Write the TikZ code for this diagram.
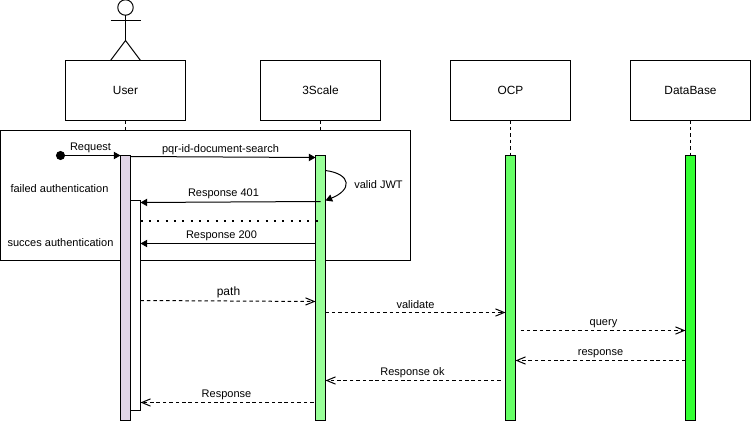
\documentclass[tikz,border=0pt]{standalone}
\usepackage{fontspec}
\setmainfont{Liberation Sans}
\definecolor{myuserbar}{RGB}{225,213,231}
\definecolor{myscalebar}{RGB}{153,255,153}
\definecolor{myocpbar}{RGB}{102,255,102}
\definecolor{mydbbar}{RGB}{51,255,51}
\usetikzlibrary{arrows.meta,positioning}

\begin{document}
\begin{tikzpicture}[
  x=0.75pt,
  y=-0.75pt,
  line width=0.75pt,
  myhead/.style={
    draw,
    rectangle,
    minimum width=90pt,
    minimum height=45pt,
    inner sep=0pt,
    outer sep=0pt,
    font=\fontsize{8.9pt}{10pt}\selectfont
    },
  mybar/.style={
    draw,
    rectangle,
    anchor=north,
    minimum width=7.5pt,
    minimum height=#1,
    inner sep=0pt,
    outer sep=0pt
  },
  mylabel/.style={
    inner sep=0pt,
    font=\fontsize{8.25pt}{10pt}\selectfont
  },
  lifeline/.style={
    dashed,
    dash pattern=on 2.6pt off 2.2pt
  },
  call/.style={
    -{Triangle[length=5pt,width=5.5pt]}
  },
  reply/.style={
    dashed,
    dash pattern=on 2.6pt off 2.2pt,
    -{Straight Barb[length=6.5pt,width=8.5pt,angle'=45]}
  }
]
\useasboundingbox (0,0) rectangle (751,421);

\node[myhead] at (125.5,90.5) (userbox) {User};
\node[myhead] at (320.5,90.5) (scalebox) {3Scale};
\node[myhead] at (510.5,90.5) (ocpbox) {OCP};
\node[myhead] at (690.5,90.5) (dbbox) {DataBase};

% actor
\node[draw, circle, minimum size=11.6pt, inner sep=0pt, outer sep=0pt] at (125.5,7.5) (head) {};
\coordinate (hip) at (125.5,40.5);
\coordinate (lefthand) at (110.5,20.5);
\coordinate (righthand) at (140.5,20.5);
\draw (head) -- (hip);
\draw (lefthand) -- (righthand);
\draw (userbox.north -| lefthand) -- (hip) -- (userbox.north -| righthand);

% box around the authentication part
\node[draw, fill=white, minimum width=307.5pt, minimum height=97.5pt, inner sep=0pt, outer sep=0pt] at (205.5,195.5) (frame) {};

\node[mybar=198.75pt, fill=myuserbar] at (125.5,155.5) (userbar) {};
\node[mybar=198.75pt, fill=myscalebar] at (320.5,155.5) (scalebar) {};
\node[mybar=198.75pt, fill=myocpbar] at (510.5,155.5) (ocpbar) {};
\node[mybar=198.75pt, fill=mydbbar] at (690.5,155.5) (dbbar) {};
\node[mybar=157.5pt, fill=white] at (135.5,200.5) (userbar2) {};

\draw[lifeline] (userbox) -- (userbox |- frame.north);
\draw[lifeline] (scalebox) -- (scalebox |- frame.north);
\draw[lifeline] (ocpbox) -- (ocpbar);
\draw[lifeline] (dbbox) -- (dbbar);

\node[draw, circle, fill=black, minimum size=6pt, inner sep=0pt, outer sep=0pt] at (60.5,155.5) (start) {};

\draw[call] (start) -- (userbar.north west |- 0,155.5);
\draw[call] (userbar.east |- 0,156.5) -- (scalebar.west |- 0,157.5);
\draw[call] (scalebar.center |- 0,201.5) -- (userbar2.east |- 0,202.5);
\draw[call] (scalebar.west |- 0,243.5) -- (userbar2.east |- 0,243.5);
\draw[call] (scalebar.east |- 0,170.5) .. controls (352,174) and (352,190) .. (scalebar.east |- 0,200.5);
\draw[line width=1.5pt, dash pattern=on 1.5pt off 4.75pt] (userbar2.east |- 0,220.5) -- (scalebar.center |- 0,220.5);

\coordinate (query) at (520.5,330.5);
\coordinate (okstart) at (500.5,380.5);
\coordinate (backstart) at (313.5,402.5);

\draw[reply] (userbar2.east |- 0,300.5) -- (scalebar.west |- 0,301.5);
\draw[reply] (scalebar.east |- 0,312.5) -- (ocpbar.west |- 0,312.5);
\draw[reply] (query) -- (dbbar.west |- query);
\draw[reply] (dbbar.west |- 0,360.5) -- (ocpbar.east |- 0,360.5);
\draw[reply] (okstart) -- (scalebar.east |- okstart);
\draw[reply] (backstart) -- (userbar2.east |- backstart);

\node[mylabel] at (90.5,147.5) (request) {Request};
\node[mylabel] at (220.5,149.5) (search) {pqr-id-document-search};
\node[mylabel] at (378.5,184.5) (jwt) {valid JWT};
\node[mylabel] at (59.5,188.5) (failed) {failed authentication};
\node[mylabel] at (60.5,242.5) (succes) {succes authentication};
\node[mylabel] at (223.5,193.5) (resp401) {Response 401};
\node[mylabel] at (221.5,236) (resp200) {Response 200};
\node[mylabel, font=\fontsize{9pt}{10pt}\selectfont] at (228.5,292) (path) {path};
\node[mylabel] at (415.5,304.5) (validate) {validate};
\node[mylabel] at (603.5,323.5) (querytext) {query};
\node[mylabel] at (600.5,353.5) (response) {response};
\node[mylabel] at (412.5,372.5) (respok) {Response ok};
\node[mylabel] at (226.5,394.5) (resp) {Response};

\end{tikzpicture}
\end{document}
